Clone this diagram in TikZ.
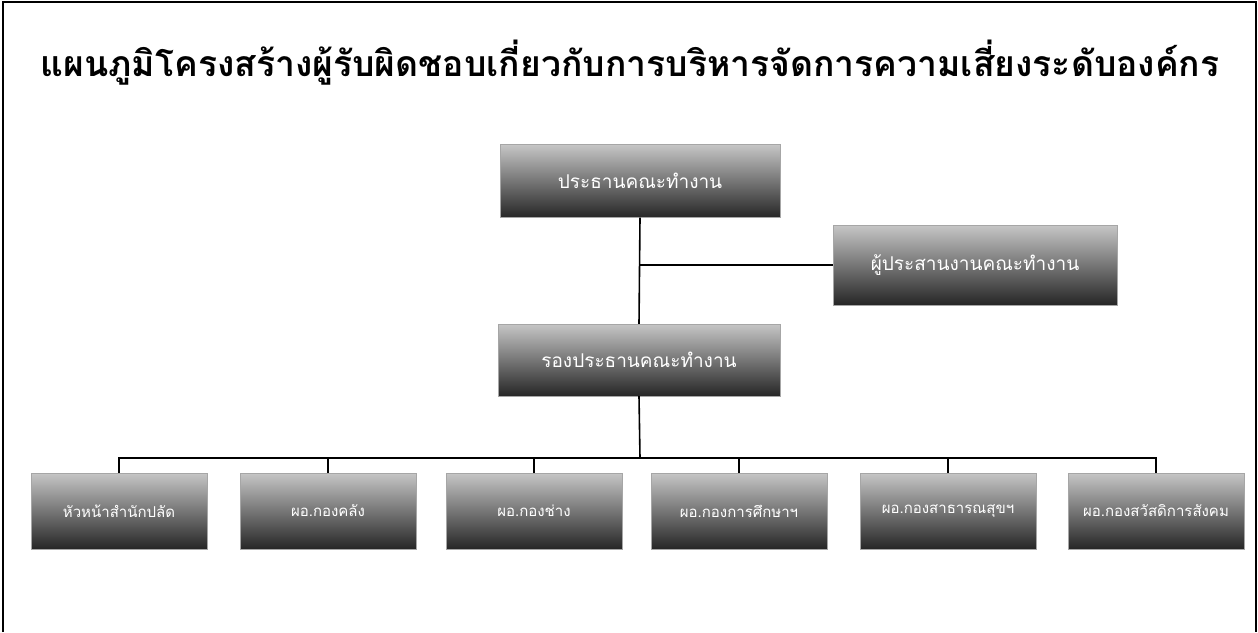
\documentclass[tikz,border=0pt]{standalone}
\usepackage{fontspec}
\newfontfamily\thaifont[Script=Thai]{Loma}
\begin{document}
\begin{tikzpicture}[x=1pt,y=-1pt,
  orgbox/.style={rectangle, minimum width=#1, minimum height=76pt, inner sep=2pt,
    top color=gray!45, bottom color=black!85, draw=gray!70, line width=0.4pt,
    text=white, font=\thaifont\fontsize{15}{18}\selectfont},
  orgbox/.default=176pt,
  bigtext/.style={font=\thaifont\fontsize{19}{22}\selectfont},
  link/.style={draw=black, line width=1.6pt}]
\useasboundingbox (0,0) rectangle (1258,632);
\draw[line width=1.2pt] (3,632) -- (3,2) -- (1256,2) -- (1256,632);
\node[font=\thaifont\bfseries\fontsize{35.5}{42}\selectfont] (title) at (630,63) {แผนภูมิโครงสร้างผู้รับผิดชอบเกี่ยวกับการบริหารจัดการความเสี่ยงระดับองค์กร};
\node[orgbox=280pt, minimum height=73pt, bigtext] (chair) at (640,181) {ประธานคณะทำงาน};
\node[orgbox=284pt, minimum height=80pt, bigtext] (coord) at (975,265) {ผู้ประสานงานคณะทำงาน};
\node[orgbox=282pt, minimum height=72pt, bigtext] (vice) at (639,360) {รองประธานคณะทำงาน};
\node[orgbox] (b1) at (119,511) {หัวหน้าสำนักปลัด};
\node[orgbox] (b2) at (328,511) {ผอ.กองคลัง};
\node[orgbox] (b3) at (534,511) {ผอ.กองช่าง};
\node[orgbox] (b4) at (739,511) {ผอ.กองการศึกษาฯ};
\node[orgbox] (b5) at (948,511) {ผอ.กองสาธารณสุขฯ};
\node[orgbox] (b6) at (1156,511) {ผอ.กองสวัสดิการสังคม};
\coordinate (j) at (640,265);
\coordinate (bus) at (640,458);
\draw[link] (chair.south) -- (vice.north);
\draw[link] (j) -- (coord.west);
\draw[link] (vice.south) -- (bus);
\draw[link] (b1.north) |- (bus) -| (b6.north);
\foreach \b in {b2,b3,b4,b5}{\draw[link] (\b.north) -- (\b.north |- bus);}
\end{tikzpicture}
\end{document}
